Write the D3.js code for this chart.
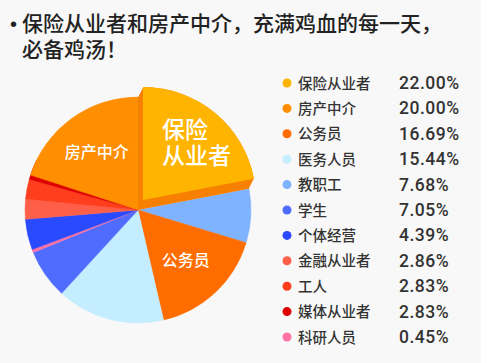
<!DOCTYPE html>
<html>
<head>
<meta charset="utf-8">
<script src="https://cdn.jsdelivr.net/npm/d3@7"></script>
<style>
  html, body { margin: 0; padding: 0; background: #fff; }
  svg { display: block; }
</style>
</head>
<body>
<div id="chart"></div>
<script>
// === data (legend order) ===
var categories = ["保险从业者", "房产中介", "公务员", "医务人员", "教职工", "学生",
                  "个体经营", "金融从业者", "工人", "媒体从业者", "科研人员"];
var shares = [22.00, 20.00, 16.69, 15.44, 7.68, 7.05, 4.39, 2.86, 2.83, 2.83, 0.45];
var percentLabels = ["22.00%", "20.00%", "16.69%", "15.44%", "7.68%", "7.05%",
                     "4.39%", "2.86%", "2.83%", "2.83%", "0.45%"];
var colors = ["#ffb400", "#ff8e00", "#ff6d00", "#c4edff", "#80b3ff", "#4f6cff",
              "#2a4aff", "#ff5f48", "#ff3e1e", "#de0000", "#ff72a6"];
// order of slices clockwise from 12 o'clock; 房产中介 is laid back from 12 o'clock
var pieOrder = ["保险从业者", "教职工", "公务员", "医务人员", "学生",
                "科研人员", "个体经营", "金融从业者", "工人", "媒体从业者"];
var lastSlice = "房产中介";
var sliceLabels = { "保险从业者": ["保险", "从业者"], "房产中介": ["房产中介"], "公务员": ["公务员"] };
var titleLines = ["保险从业者和房产中介，充满鸡血的每一天，", "必备鸡汤！"];

var W = 487, H = 363;
var cx = 138, cy = 210, R = 113;
var cjk = "'Noto Sans CJK SC', 'Noto Sans', sans-serif";

var svg = d3.select("#chart").append("svg")
    .attr("width", W).attr("height", H);

svg.append("rect").attr("width", W).attr("height", H).attr("fill", "#f8f8f8");
svg.append("rect").attr("x", 481).attr("width", W - 481).attr("height", H).attr("fill", "#ffffff");

// === title ===
svg.append("text")
    .attr("x", 10).attr("y", 31)
    .attr("font-family", "'Liberation Sans', sans-serif")
    .attr("font-size", 20).attr("fill", "#222")
    .text("•");
svg.append("g").selectAll("text")
    .data(titleLines)
    .enter().append("text")
    .attr("x", 22)
    .attr("y", function (d, i) { return 31 + i * 26; })
    .attr("font-family", cjk)
    .attr("font-size", 21).attr("font-weight", 500)
    .attr("fill", "#222")
    .text(function (d) { return d; });

// === pie ===
var byName = {};
categories.forEach(function (c, i) { byName[c] = { name: c, value: shares[i], color: colors[i] }; });
var pieData = pieOrder.map(function (n) { return byName[n]; });

// each slice is share/100 of the circle, as in the original
// (the shares add up to a bit over 100, so the last slice overlaps the one before it)
var restSum = d3.sum(pieData, function (d) { return d.value; });
var pie = d3.pie()
    .value(function (d) { return d.value; })
    .sort(null)
    .startAngle(0)
    .endAngle(2 * Math.PI * restSum / 100);
var arcs = pie(pieData);
var lastArc = d3.pie()
    .value(function (d) { return d.value; })
    .startAngle(-2 * Math.PI * byName[lastSlice].value / 100)
    .endAngle(0)([byName[lastSlice]])[0];

var arc = d3.arc().innerRadius(0).outerRadius(R);
var labelArc = d3.arc().innerRadius(70).outerRadius(70);

var g = svg.append("g").attr("transform", "translate(" + cx + "," + cy + ")");

var explode = "保险从业者";
var flat = arcs.filter(function (d) { return d.data.name != explode; });
flat.push(lastArc);

g.selectAll("path.slice")
    .data(flat)
    .enter().append("path")
    .attr("class", "slice")
    .attr("d", arc)
    .attr("fill", function (d) { return d.data.color; })
    .attr("stroke", function (d) { return d.data.color; })
    .attr("stroke-width", 0.5);

// exploded slice with a little 3d wall
var ex = arcs.filter(function (d) { return d.data.name == explode; })[0];
var lift = [5, -10];
var steps = d3.range(0, 1.0001, 1 / 10);
g.selectAll("path.wall")
    .data(steps)
    .enter().append("path")
    .attr("class", "wall")
    .attr("d", arc(ex))
    .attr("fill", "#f88000")
    .attr("transform", function (t) {
        return "translate(" + (lift[0] * t) + "," + (lift[1] * t) + ")";
    });
g.append("path")
    .attr("d", arc(ex))
    .attr("fill", ex.data.color)
    .attr("transform", "translate(" + lift[0] + "," + lift[1] + ")");

// slice labels
arcs.concat([lastArc]).forEach(function (d) {
    var lines = sliceLabels[d.data.name];
    if (!lines) return;
    var big = d.data.name == explode;
    var c = big ? d3.arc().innerRadius(72).outerRadius(72).centroid(d) : labelArc.centroid(d);
    if (big) { c[0] += lift[0]; c[1] += lift[1]; }
    var fs = big ? 23 : 16;
    var lh = big ? 26 : 18;
    var t = g.append("text")
        .attr("font-family", cjk)
        .attr("font-size", fs)
        .attr("font-weight", 500)
        .attr("fill", "#fff")
        .attr("text-anchor", big ? "start" : "middle");
    lines.forEach(function (l, i) {
        t.append("tspan")
            .attr("x", big ? c[0] - 27 : c[0])
            .attr("y", c[1] + fs * 0.3 + (i - (lines.length - 1) / 2) * lh)
            .text(l);
    });
});

// === legend ===
var rowY = d3.scalePoint().domain(categories).range([83, 337]);
var leg = svg.append("g").selectAll("g")
    .data(categories)
    .enter().append("g")
    .attr("transform", function (d) { return "translate(0," + rowY(d) + ")"; });
leg.append("circle")
    .attr("cx", 287).attr("cy", 0).attr("r", 4.5)
    .attr("fill", function (d, i) { return colors[i]; });
leg.append("text")
    .attr("x", 298).attr("y", 5.5)
    .attr("font-family", cjk)
    .attr("font-size", 14.5).attr("font-weight", 500)
    .attr("fill", "#333")
    .text(function (d) { return d; });
leg.append("text")
    .attr("x", 399).attr("y", 6)
    .attr("font-family", "Roboto, 'Liberation Sans', Arial, sans-serif")
    .attr("font-size", 17.5).attr("font-weight", 500)
    .attr("letter-spacing", 0.5)
    .attr("fill", "#333")
    .text(function (d, i) { return percentLabels[i]; });
</script>
</body>
</html>
